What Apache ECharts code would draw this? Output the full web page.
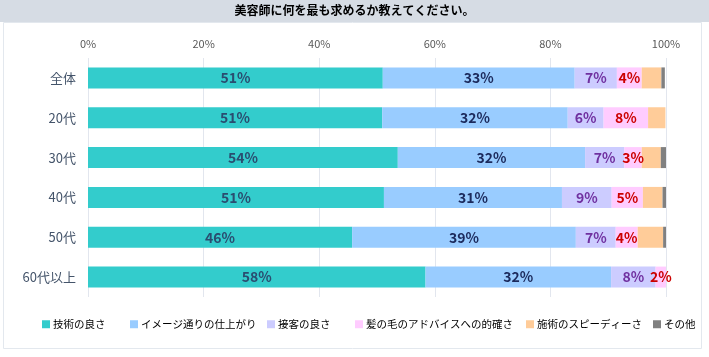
<!DOCTYPE html>
<html><head><meta charset="utf-8">
<script src="https://cdn.jsdelivr.net/npm/echarts@6/dist/echarts.min.js"></script>
<style>html,body{margin:0;padding:0;background:#fff}#c{width:709px;height:357px}</style>
</head><body><div id="c"></div>
<script>
const titleText = '美容師に何を最も求めるか教えてください。';
const categories = ['全体', '20代', '30代', '40代', '50代', '60代以上'];
const seriesNames = ['技術の良さ', 'イメージ通りの仕上がり', '接客の良さ', '髪の毛のアドバイスへの的確さ', '施術のスピーディーさ', 'その他'];
const gijutsu   = [51.0, 50.9, 53.6, 51.2, 45.7, 58.4];
const image     = [33.2, 32.1, 32.4, 30.8, 38.7, 32.1];
const sekkyaku  = [7.3, 6.2, 6.8, 8.6, 6.9, 7.7];
const advice    = [4.3, 7.7, 3.0, 5.4, 3.8, 1.8];
const speed     = [3.4, 3.0, 3.3, 3.4, 4.4, 0];
const sonota    = [0.6, 0, 0.9, 0.6, 0.5, 0];
const xTicks = [0, 20, 40, 60, 80, 100];

const values = [gijutsu, image, sekkyaku, advice, speed, sonota];
const colors = ['#33cccc', '#99ccff', '#ccccff', '#ffccff', '#ffcc99', '#808080'];
const labelColors = ['#2a4d70', '#1c2a5c', '#7030a0', '#cc0000', null, null];
const legendLeft = [37, 125, 262, 350, 521, 648];
const FONT = '"Noto Sans CJK JP", "Noto Sans", sans-serif';

const chart = echarts.init(document.getElementById('c'));
const series = values.map((arr, i) => ({
  name: seriesNames[i],
  type: 'bar',
  stack: 'total',
  barWidth: 21,
  data: arr,
  itemStyle: { color: colors[i] },
  label: labelColors[i] ? {
    show: true,
    position: 'inside',
    color: labelColors[i],
    fontSize: 14,
    fontWeight: 'bold',
    fontFamily: FONT,
    formatter: p => Math.round(p.value) + '%'
  } : { show: false },
  emphasis: { disabled: true }
}));

chart.setOption({
  animation: false,
  textStyle: { fontFamily: FONT },
  graphic: [
    { type: 'rect', shape: { x: 0, y: 0, width: 709, height: 22 }, style: { fill: '#d6dce4' }, z: -10 },
    { type: 'rect', shape: { x: 3.5, y: 22.5, width: 698, height: 326 }, style: { fill: '#fff', stroke: '#e3e8ee', lineWidth: 1 }, z: -10 },
    { type: 'text', left: 'center', top: 4, style: { text: titleText, font: 'bold 12px ' + FONT, fill: '#000' } }
  ],
  legend: seriesNames.map((n, i) => ({
    data: [{ name: n, icon: 'rect' }],
    left: legendLeft[i],
    top: 314,
    itemWidth: 8,
    itemHeight: 8,
    itemGap: 5,
    selectedMode: false,
    textStyle: { fontSize: 10.5, color: '#000', fontFamily: FONT, padding: [0, 0, 0, -2] }
  })),
  grid: { left: 88, right: 43, top: 58, bottom: 60 },
  xAxis: {
    type: 'value',
    position: 'top',
    min: 0,
    max: 100,
    interval: 20,
    axisLine: { show: false },
    axisTick: { show: false },
    splitLine: { show: true, lineStyle: { color: '#e2e6ee', width: 1 } },
    axisLabel: { color: '#595959', fontSize: 11, margin: 9, formatter: v => xTicks.includes(v) ? v + '%' : '' }
  },
  yAxis: {
    type: 'category',
    inverse: true,
    data: categories,
    axisLine: { show: false },
    axisTick: { show: false },
    axisLabel: { color: '#44546a', fontSize: 13, margin: 12 }
  },
  series: series
});
</script>
</body></html>
